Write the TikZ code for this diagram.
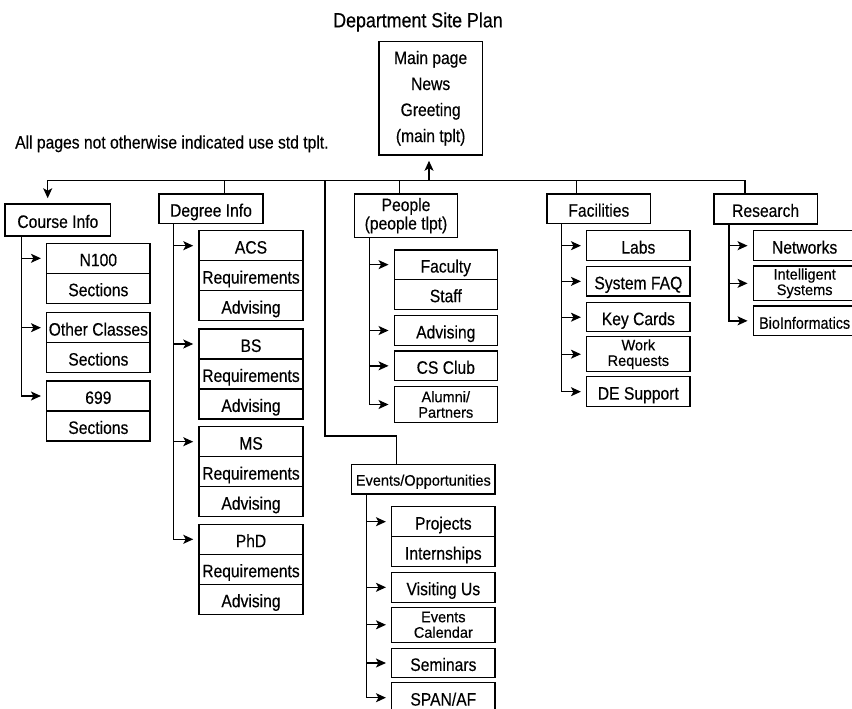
\documentclass[tikz,border=0pt]{standalone}
\usepackage{fontspec}
\setmainfont[FakeStretch=0.87,FakeBold=0.3]{Liberation Sans}
\newfontfamily\smallfam[FakeStretch=0.95,FakeBold=0.3]{Liberation Sans}
\usetikzlibrary{arrows.meta}
\newcommand\fsN{\fontsize{18}{20}\selectfont}
\newcommand\fsS{\smallfam\fontsize{15.3}{15.5}\selectfont}
\newcommand\fsT{\fontsize{20.5}{24}\selectfont}
\begin{document}
\begin{tikzpicture}[x=1pt,y=-1pt,
  cell/.style={draw, line width=1.5pt, inner sep=0pt, minimum width=103.3pt,
    minimum height=30pt, font=\fsN, text height=15.8pt, text depth=0pt},
  two/.style={draw, line width=1.5pt, inner sep=0pt, minimum width=103.3pt,
    minimum height=35pt, font=\fsS, align=center},
  conn/.style={line width=1.3pt},
  arr/.style={conn, -{Stealth[length=10pt,width=9pt,inset=2.5pt]}, shorten >=5pt}]
\fill[white] (0,0) rectangle (852,709);
\useasboundingbox (0,0) rectangle (852,709);

% title and note
\node[font=\fsT, anchor=base, inner sep=0pt] (title) at (418,27.3) {Department Site Plan};
\node[font=\fsN, anchor=base west, inner sep=0pt] (note) at (15,148.5) {All pages not otherwise indicated use std tplt.};

% main page
\node[draw, line width=1.5pt, inner sep=0pt, minimum width=103.3pt, minimum height=113.3pt,
  align=center, font=\fontsize{18}{26}\selectfont] (main) at (430.65,98.35)
  {Main page\\News\\Greeting\\(main tplt)};

% section heads
\node[cell, minimum width=105.7pt, minimum height=32pt] (ci) at (57.85,220) {Course Info};
\node[cell, minimum width=104pt, minimum height=29.5pt] (deg) at (211,208.75) {Degree Info};
\node[draw, line width=1.5pt, inner sep=0pt, minimum width=103.4pt, minimum height=43.3pt,
  align=center, font=\fontsize{18}{18.5}\selectfont] (ppl) at (406,215.65) {People\\(people tlpt)};
\node[cell, minimum height=29.5pt] (fac) at (598.85,208.75) {Facilities};
\node[cell] (res) at (765.65,209) {Research};
\node[cell, minimum width=143.3pt, minimum height=29.7pt, font=\fsS, text height=13pt] (ev) at (423.35,479.15) {Events/Opportunities};

% course info children
\node[cell] (n100) at (98.35,258.3) {N100};
\node[cell] (n100s) at (98.35,288.3) {Sections};
\node[cell] (oth) at (98.35,327.7) {Other Classes};
\node[cell] (oths) at (98.35,357.7) {Sections};
\node[cell] (c699) at (98.35,396) {699};
\node[cell] (c699s) at (98.35,426) {Sections};

% degree children
\node[cell, minimum width=104pt] (acs) at (251,245.7) {ACS};
\node[cell, minimum width=104pt] (acsr) at (251,275.7) {Requirements};
\node[cell, minimum width=104pt] (acsa) at (251,305.7) {Advising};
\node[cell, minimum width=104pt] (bs) at (251,344) {BS};
\node[cell, minimum width=104pt] (bsr) at (251,374) {Requirements};
\node[cell, minimum width=104pt] (bsa) at (251,404) {Advising};
\node[cell, minimum width=104pt] (ms) at (251,441.7) {MS};
\node[cell, minimum width=104pt] (msr) at (251,471.7) {Requirements};
\node[cell, minimum width=104pt] (msa) at (251,501.7) {Advising};
\node[cell, minimum width=104pt] (phd) at (251,539.3) {PhD};
\node[cell, minimum width=104pt] (phdr) at (251,569.3) {Requirements};
\node[cell, minimum width=104pt] (phda) at (251,599.3) {Advising};

% people children
\node[cell, minimum width=103pt, minimum height=29.3pt] (pfac) at (445.8,264.65) {Faculty};
\node[cell, minimum width=103pt] (pstaff) at (445.8,294.3) {Staff};
\node[cell, minimum width=103pt, minimum height=29.6pt] (padv) at (445.8,330.5) {Advising};
\node[cell, minimum width=103pt, minimum height=29.7pt] (pclub) at (445.8,365.85) {CS Club};
\node[two, minimum width=103pt, minimum height=35.6pt] (palum) at (445.8,404.5) {Alumni/\\Partners};

% facilities children
\node[cell] (flabs) at (638.35,245.7) {Labs};
\node[cell, minimum height=29.3pt] (ffaq) at (638.35,281.35) {System FAQ};
\node[cell, minimum height=29pt] (fkey) at (638.35,317.2) {Key Cards};
\node[two] (fwork) at (638.35,354.2) {Work\\Requests};
\node[cell] (fde) at (638.35,391.7) {DE Support};

% research children
\node[cell, minimum width=102.7pt] (rnet) at (804.65,245.7) {Networks};
\node[two, minimum width=102.7pt, minimum height=34.7pt] (rint) at (804.65,283.35) {Intelligent\\Systems};
\node[cell, minimum width=102.7pt, minimum height=29.7pt, font=\fontsize{16.5}{20}\selectfont] (rbio) at (804.65,320.85) {BioInformatics};

% events children
\node[cell] (eproj) at (443.35,521.7) {Projects};
\node[cell] (eint) at (443.35,551.7) {Internships};
\node[cell] (evis) at (443.35,587.3) {Visiting Us};
\node[two] (ecal) at (443.35,624.8) {Events\\Calendar};
\node[cell, minimum height=29.4pt] (esem) at (443.35,663) {Seminars};
\node[cell] (espan) at (443.35,697.7) {SPAN/AF};

% bus coordinates
\coordinate (busL) at (47.7,180.7);
\coordinate (busR) at (745,180.7);
\coordinate (bDeg) at (224.3,180.7);
\coordinate (bEv) at (325,180.7);
\coordinate (bPpl) at (399.3,180.7);
\coordinate (bMain) at (429,180.7);
\coordinate (bFac) at (576.7,180.7);
\coordinate (evK) at (396.7,436);

% bus
\draw[arr] (busR |- res.north) |- (busL) -- (busL |- ci.north);
\draw[arr] (bMain) -- (bMain |- main.south);
\draw[conn] (bDeg) -- (bDeg |- deg.north);
\draw[conn] (bPpl) -- (bPpl |- ppl.north);
\draw[conn] (bFac) -- (bFac |- fac.north);
\draw[conn] (bEv) |- (evK) -- (evK |- ev.north);

% spines
\coordinate (sCi) at (21.7,236);
\coordinate (sDeg) at (173.7,223.5);
\coordinate (sPpl) at (369.3,237.3);
\coordinate (sFac) at (561.7,223.5);
\coordinate (sRes) at (729,224);
\coordinate (sEv) at (366.7,494);

\draw[arr] (sCi) |- (c699.west);
\draw[arr] (sCi |- n100.west) -- (n100.west);
\draw[arr] (sCi |- oth.west) -- (oth.west);

\draw[arr] (sDeg) |- (phd.west);
\draw[arr] (sDeg |- acs.west) -- (acs.west);
\draw[arr] (sDeg |- bs.west) -- (bs.west);
\draw[arr] (sDeg |- ms.west) -- (ms.west);

\draw[arr] (sPpl) |- (palum.west);
\draw[arr] (sPpl |- pfac.west) -- (pfac.west);
\draw[arr] (sPpl |- padv.west) -- (padv.west);
\draw[arr] (sPpl |- pclub.west) -- (pclub.west);

\draw[arr] (sFac) |- (fde.west);
\draw[arr] (sFac |- flabs.west) -- (flabs.west);
\draw[arr] (sFac |- ffaq.west) -- (ffaq.west);
\draw[arr] (sFac |- fkey.west) -- (fkey.west);
\draw[arr] (sFac |- fwork.west) -- (fwork.west);

\draw[arr] (sRes) |- (rbio.west);
\draw[arr] (sRes |- rnet.west) -- (rnet.west);
\draw[arr] (sRes |- rint.west) -- (rint.west);

\draw[arr] (sEv) |- (espan.west);
\draw[arr] (sEv |- eproj.west) -- (eproj.west);
\draw[arr] (sEv |- evis.west) -- (evis.west);
\draw[arr] (sEv |- ecal.west) -- (ecal.west);
\draw[arr] (sEv |- esem.west) -- (esem.west);
\end{tikzpicture}
\end{document}
